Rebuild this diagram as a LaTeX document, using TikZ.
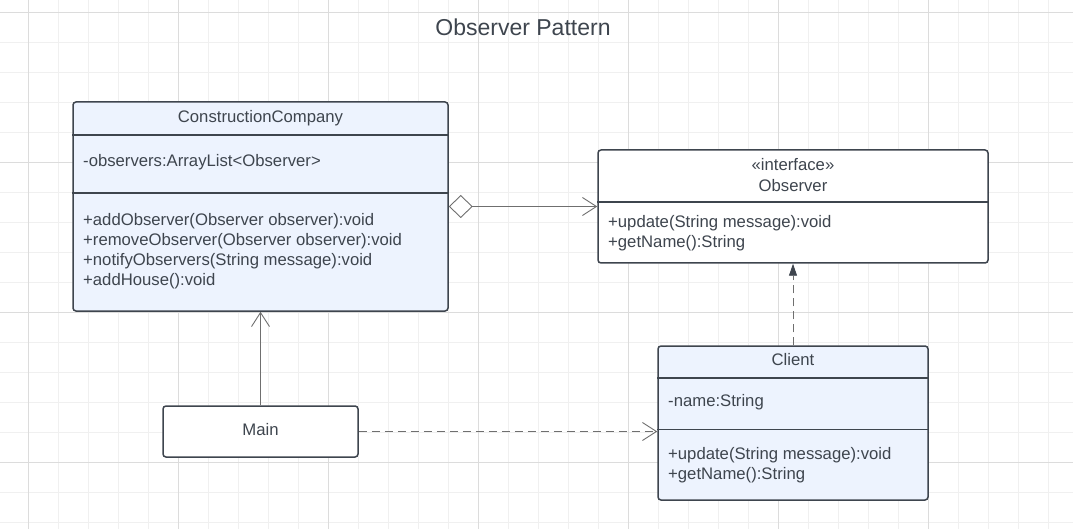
\documentclass[tikz,border=0pt]{standalone}
\usepackage{fontspec}
\setmainfont{Liberation Sans}
\usetikzlibrary{arrows.meta}

\definecolor{inkgray}{HTML}{3E454E}
\definecolor{linegray}{HTML}{6F6F6F}
\definecolor{classblue}{HTML}{EDF3FE}
\definecolor{gridminor}{HTML}{F0F0F0}
\definecolor{gridmajor}{HTML}{DCDCDC}

\tikzset{
  classbox/.style={draw=inkgray, line width=1.5pt, rounded corners=3pt, inner sep=0pt, fill=classblue},
  plainbox/.style={classbox, fill=white},
  member/.style={anchor=west, inner sep=0pt, align=left, text=inkgray, font=\fontsize{16.7}{20}\selectfont},
  heading/.style={inner sep=0pt, align=center, text=inkgray, font=\fontsize{16.7}{21}\selectfont},
  divider/.style={draw=inkgray, line width=1.5pt},
  link/.style={draw=linegray, line width=0.9pt},
  openhead/.style={-{Straight Barb[length=14pt,width=18pt]}},
  dashlink/.style={link, dash pattern=on 8pt off 5pt},
}

\begin{document}
\begin{tikzpicture}[x=1pt, y=-1pt]
\useasboundingbox (0,0) rectangle (1073,529);
\fill[white] (0,0) rectangle (1073,529);
% background grid
\foreach \gx in {-2,28,...,1078} \draw[gridminor, line width=0.8pt] (\gx,0) -- (\gx,529);
\foreach \gy in {12,42,...,522} \draw[gridminor, line width=0.8pt] (0,\gy) -- (1073,\gy);
\foreach \gx in {28,178,...,1078} \draw[gridmajor, line width=0.8pt] (\gx,0) -- (\gx,529);
\foreach \gy in {12,162,...,462} \draw[gridmajor, line width=0.8pt] (0,\gy) -- (1073,\gy);

\node[text=inkgray, font=\fontsize{23}{27}\selectfont] (title) at (523,27) {Observer Pattern};

% classes
\node[classbox, minimum width=375pt, minimum height=209pt] (company) at (260.5,206.5) {};
\node[plainbox, minimum width=390pt, minimum height=113pt] (observer) at (793,206.5) {};
\node[classbox, minimum width=270pt, minimum height=154pt] (client) at (793,423) {};
\node[plainbox, minimum width=195pt, minimum height=51pt, text depth=4pt, text=inkgray,
      font=\fontsize{16.7}{20}\selectfont] (main) at (260.5,431.5) {Main};

\draw[divider] (company.west |- 0,135) -- (company.east |- 0,135);
\draw[divider] (company.west |- 0,193) -- (company.east |- 0,193);
\draw[divider] (observer.west |- 0,202) -- (observer.east |- 0,202);
\draw[divider] (client.west |- 0,378) -- (client.east |- 0,378);
\draw[divider] (client.west |- 0,429.5) -- (client.east |- 0,429.5);

\node[heading] (companyname) at (260.5,118) {ConstructionCompany};
\node[member] (companyattr) at (83,162.5) {-observers:ArrayList<Observer>};
\node[member] (companyops) at (83,251) {+addObserver(Observer observer):void\\
  +removeObserver(Observer observer):void\\+notifyObservers(String message):void\\+addHouse():void};

\node[heading] (observername) at (793,175) {«interface»\\Observer};
\node[member] (observerops) at (608,233) {+update(String message):void\\+getName():String};

\node[heading] (clientname) at (793,360) {Client};
\node[member] (clientattr) at (668,402.5) {-name:String};
\node[member] (clientops) at (668,465) {+update(String message):void\\+getName():String};

% relations
\draw[link, {Diamond[fill=white,length=24pt,width=23pt]}-{Straight Barb[length=14pt,width=18pt]}]
  (company) -- (observer);
\draw[link, openhead] (main) -- (company);
\draw[dashlink, openhead] (main.east) -- (main.east -| client.west);
\draw[dashlink, -{Triangle[length=12pt,width=8pt,color=inkgray]}] (client) -- (observer);
\end{tikzpicture}
\end{document}
